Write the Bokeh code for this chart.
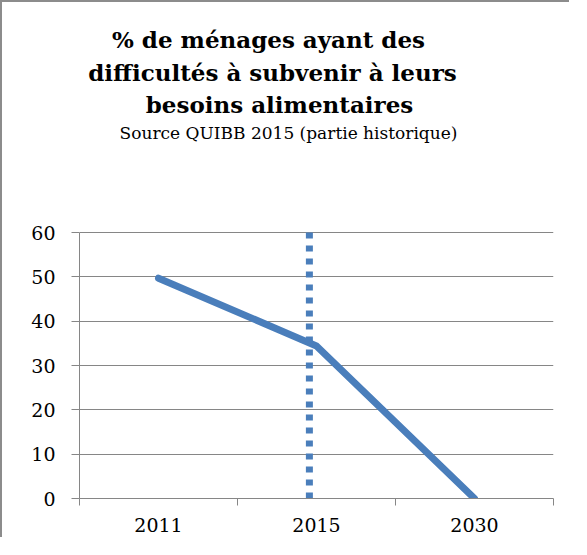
import numpy as np
from bokeh.plotting import figure
from bokeh.models import Range1d, FixedTicker, Label
from bokeh.embed import file_html
from bokeh.resources import INLINE

# ---- data ----
years = ["2011", "2015", "2030"]
share = [49.7, 34.4, 0.0]
y_ticks = [0, 10, 20, 30, 40, 50, 60]
marker_year = "2015"
marker_span = [60, 0]
title_lines = ["% de ménages ayant des",
               "difficultés à subvenir à leurs",
               "besoins alimentaires"]
subtitle = "Source QUIBB 2015 (partie historique)"

BLUE = "#4a7ebb"
GRAY = "#868686"
FONT = "DejaVu Serif"

pos = np.arange(len(years)) + 0.5
bounds = np.arange(len(years) + 1)

W, H = 569, 537
FL, FR, FB = 77, 551, 496      # frame edges (canvas px)
PLOT_TOP = 230                 # where the top of the value axis sits
ymax = y_ticks[-1] * FB / (FB - PLOT_TOP)   # frame also holds the titles

p = figure(width=W, height=H, output_backend="svg", toolbar_location=None,
           title=None,
           x_range=Range1d(0, len(years)),
           y_range=Range1d(y_ticks[0], ymax),
           min_border_left=FL, min_border_right=W - FR,
           min_border_top=0, min_border_bottom=H - FB)
p.outline_line_color = None
p.background_fill_color = "white"
p.border_fill_color = "white"
p.styles = {"border-top": "2px solid #8c8c8c", "border-left": "2px solid #8c8c8c"}

# x axis: labels at category centres, tick marks between categories
xa = p.xaxis[0]
xa.ticker = FixedTicker(ticks=list(pos), minor_ticks=list(bounds))
xa.major_label_overrides = {float(x): y for x, y in zip(pos, years)}
xa.major_tick_out = 0
xa.major_tick_in = 0
xa.minor_tick_out = 7
xa.minor_tick_in = 0
xa.minor_tick_line_color = GRAY
xa.axis_line_color = GRAY
xa.major_label_text_font = FONT
xa.major_label_text_font_size = "19px"
xa.major_label_text_color = "black"
xa.major_label_standoff = 12
p.xgrid.visible = False

ya = p.yaxis[0]
ya.ticker = FixedTicker(ticks=y_ticks)
ya.bounds = (y_ticks[0], y_ticks[-1])
ya.major_tick_out = 8
ya.major_tick_in = 0
ya.major_tick_line_color = GRAY
ya.minor_tick_line_color = None
ya.axis_line_color = GRAY
ya.major_label_text_font = FONT
ya.major_label_text_font_size = "19px"
ya.major_label_text_color = "black"
ya.major_label_standoff = 16
p.ygrid.ticker = FixedTicker(ticks=y_ticks)
p.ygrid.grid_line_color = GRAY

# dotted marker line at 2015
mx = pos[years.index(marker_year)] - 0.045
p.segment(x0=[mx], y0=[marker_span[0]], x1=[mx], y1=[marker_span[1]],
          line_width=7, line_dash="6 7", line_color=BLUE, line_cap="butt")

p.line(pos, share, line_width=7, line_color=BLUE, line_cap="round", line_join="round")

# titles: screen units inside the frame
title_base = [37, 70, 102]      # canvas baselines
title_cx = [266, 270, 277]
for txt, b, cx in zip(title_lines, title_base, title_cx):
    p.add_layout(Label(x=cx - FL, y=FB - b, x_units="screen", y_units="screen",
                       text=txt, text_align="center", text_baseline="alphabetic",
                       text_font=FONT, text_font_size="23px", text_font_style="bold",
                       text_color="black"))
p.add_layout(Label(x=286 - FL, y=FB - 130, x_units="screen", y_units="screen",
                   text=subtitle, text_align="center", text_baseline="alphabetic",
                   text_font=FONT, text_font_size="17px", text_color="black"))

open("out.html", "w").write(file_html(p, INLINE))
